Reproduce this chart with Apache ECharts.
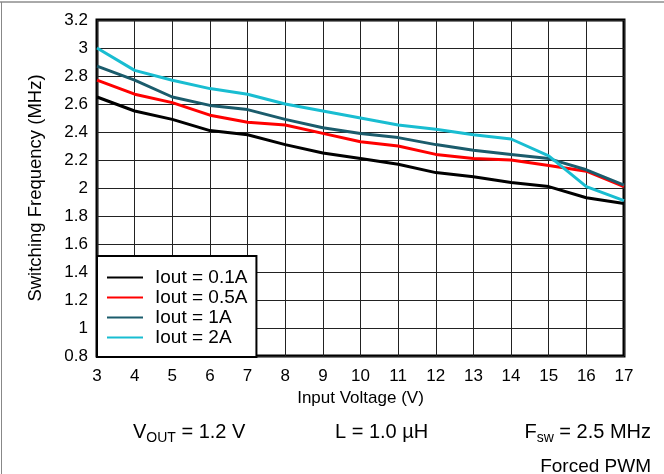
<!DOCTYPE html>
<html>
<head>
<meta charset="utf-8">
<style>
  html, body { margin: 0; padding: 0; background: #fff; }
  #chart { width: 664px; height: 474px; }
</style>
<script src="https://cdn.jsdelivr.net/npm/echarts@6/dist/echarts.min.js"></script>
</head>
<body>
<div id="chart"></div>
<script>
// 输入电压 (V)
var inputVoltage = [3, 4, 5, 6, 7, 8, 9, 10, 11, 12, 13, 14, 15, 16, 17];
// 各负载电流下的开关频率 (MHz)
var iout01 = [2.65, 2.55, 2.49, 2.41, 2.38, 2.31, 2.25, 2.21, 2.17, 2.11, 2.08, 2.04, 2.01, 1.93, 1.89];
var iout05 = [2.77, 2.67, 2.61, 2.52, 2.47, 2.45, 2.39, 2.33, 2.30, 2.24, 2.21, 2.20, 2.16, 2.12, 2.01];
var iout1 = [2.87, 2.77, 2.65, 2.59, 2.56, 2.49, 2.43, 2.39, 2.36, 2.31, 2.27, 2.24, 2.21, 2.13, 2.02];
var iout2 = [3.00, 2.84, 2.77, 2.71, 2.67, 2.60, 2.55, 2.50, 2.45, 2.42, 2.38, 2.35, 2.23, 2.01, 1.91];
var seriesNames = ['Iout = 0.1A', 'Iout = 0.5A', 'Iout = 1A', 'Iout = 2A'];
var seriesColors = ['#000000', '#ff0000', '#1b5c6c', '#19bdd1'];

var font = 'Liberation Sans, Arial, sans-serif';

function pairs(ys) {
  return inputVoltage.map(function (x, i) { return [x, ys[i]]; });
}

// 底部说明文字的富文本样式（带下标）
var footRich = {
  b: { fontSize: 20, fontFamily: font, color: '#000', fontWeight: 'normal', lineHeight: 26 },
  s: { fontSize: 14, fontFamily: font, color: '#000', fontWeight: 'normal', lineHeight: 15, verticalAlign: 'bottom' }
};

var chart = echarts.init(document.getElementById('chart'));

var option = {
  animation: false,
  textStyle: { fontFamily: font, color: '#000' },
  grid: {
    left: 97, right: 40, top: 20, bottom: 118,
    show: true, borderColor: '#000', borderWidth: 3
  },
  xAxis: {
    type: 'value', min: 3, max: 17, interval: 1,
    name: 'Input Voltage (V)', nameLocation: 'middle', nameGap: 33,
    nameTextStyle: { fontSize: 17, color: '#000', fontFamily: font },
    axisLine: { show: false },
    axisTick: { show: false },
    axisLabel: { fontSize: 17, color: '#000', margin: 12, fontFamily: font },
    splitLine: { show: true, lineStyle: { color: '#222', width: 1 } }
  },
  yAxis: {
    type: 'value', min: 0.8, max: 3.2, interval: 0.2,
    name: 'Switching Frequency (MHz)', nameLocation: 'middle', nameGap: 52,
    nameTextStyle: { fontSize: 18.5, color: '#000', fontFamily: font },
    axisLine: { show: false },
    axisTick: { show: false },
    axisLabel: {
      fontSize: 17, color: '#000', margin: 9, fontFamily: font,
      formatter: function (v) { return String(+v.toFixed(1)); }
    },
    splitLine: { show: true, lineStyle: { color: '#222', width: 1 } }
  },
  legend: {
    orient: 'vertical',
    left: 97, top: 256,
    padding: [12, 9, 10, 10],
    backgroundColor: '#fff',
    borderColor: '#000', borderWidth: 2, borderRadius: 0,
    icon: 'rect', itemWidth: 36, itemHeight: 2, itemGap: 1,
    textStyle: { fontSize: 19, color: '#000', fontFamily: font, lineHeight: 18.5, padding: [0, 0, 0, 7] },
    data: seriesNames
  },
  title: [
    {
      text: '{b|V}{s|OUT}{b| = 1.2 V}',
      left: 128, top: 414,
      textStyle: { rich: footRich }
    },
    {
      text: '{b|L = 1.0 µH}',
      left: 330, top: 414,
      textStyle: { rich: footRich }
    },
    {
      text: '{b|F}{s|sw}{b| = 2.5 MHz}',
      right: 8, top: 414,
      textStyle: { rich: footRich }
    },
    {
      text: 'Forced PWM',
      right: 8, top: 452,
      textStyle: { fontSize: 19, fontFamily: font, color: '#000', fontWeight: 'normal' }
    }
  ],
  graphic: [
    { type: 'line', shape: { x1: 0, y1: 2, x2: 664, y2: 2 }, style: { stroke: '#555', lineWidth: 1 } },
    { type: 'line', shape: { x1: 1.5, y1: 2, x2: 1.5, y2: 474 }, style: { stroke: '#888', lineWidth: 1 } }
  ],
  series: [iout01, iout05, iout1, iout2].map(function (ys, i) {
    return {
      name: seriesNames[i],
      type: 'line',
      data: pairs(ys),
      symbol: 'none',
      color: seriesColors[i],
      lineStyle: { color: seriesColors[i], width: 3 }
    };
  })
};

chart.setOption(option);
</script>
</body>
</html>
